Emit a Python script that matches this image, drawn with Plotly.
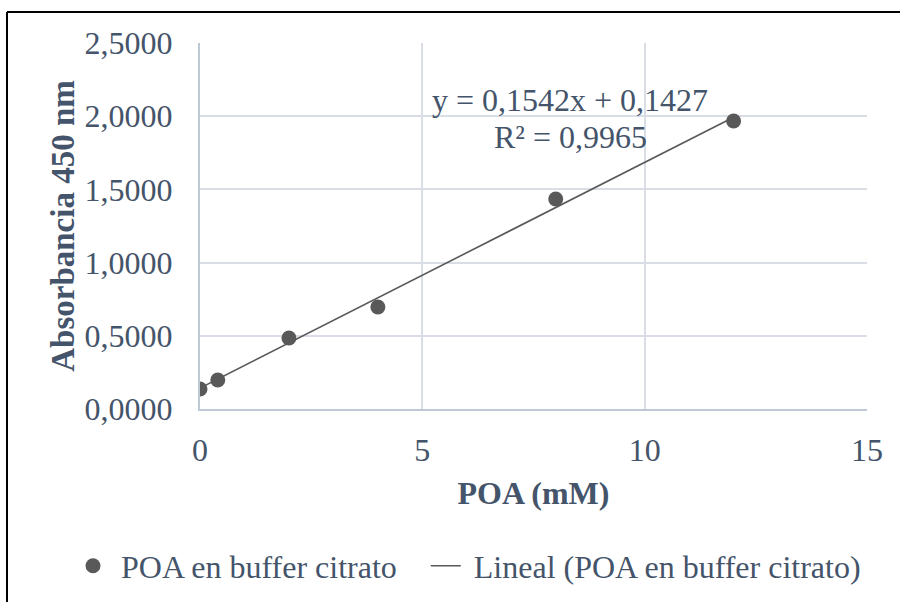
import plotly.graph_objects as go

# Data
poa_mM = [0, 0.4, 2, 4, 8, 12]
absorbance = [0.137, 0.198, 0.485, 0.697, 1.434, 1.967]
slope = 0.1542
intercept = 0.1427
r2 = 0.9965
x_ticks = [0, 5, 10, 15]
y_ticks = [0, 0.5, 1.0, 1.5, 2.0, 2.5]
series_name = "POA en buffer citrato"
trend_name = "Lineal (POA en buffer citrato)"

trend_x = [min(poa_mM), max(poa_mM)]
trend_y = [slope * v + intercept for v in trend_x]

FONT = "Liberation Serif, Times New Roman, serif"
TXT = "#44546A"
FS = 32
W, H = 900, 602
SL, SR, ST, SB = 200, 867, 43, 409
L, T, R, B = SL, ST, W - SR, H - SB
pw, ph = W - L - R, H - T - B
NB = "\u00a0"

def px2paper_x(px):
    return (px - L) / pw

def py2paper_y(py):
    return (H - B - py) / ph

fig = go.Figure()
fig.add_trace(go.Scatter(
    x=poa_mM, y=absorbance, mode="markers", name=NB + series_name + NB * 3,
    marker=dict(color="#595959", size=15),
))
fig.add_trace(go.Scatter(
    x=trend_x, y=trend_y, mode="lines", name=NB + trend_name,
    line=dict(color="#595959", width=1.6),
))

eq1 = f"y = {slope:.4f}x + {intercept:.4f}".replace(".", ",")
eq2 = f"R² = {r2:.4f}".replace(".", ",")
fig.add_annotation(x=8.32, y=2.111, xref="x", yref="y", text=eq1, showarrow=False,
                   font=dict(family=FONT, size=FS, color=TXT), yanchor="middle")
fig.add_annotation(x=8.34, y=1.858, xref="x", yref="y", text=eq2, showarrow=False,
                   font=dict(family=FONT, size=FS, color=TXT), yanchor="middle")

# Outer frame
fig.add_shape(type="line", xref="paper", yref="paper",
              x0=px2paper_x(7), x1=px2paper_x(7), y0=py2paper_y(12), y1=py2paper_y(620),
              line=dict(color="black", width=2))
fig.add_shape(type="line", xref="paper", yref="paper",
              x0=px2paper_x(7), x1=px2paper_x(920), y0=py2paper_y(12), y1=py2paper_y(12),
              line=dict(color="black", width=2))

fig.update_layout(
    width=W, height=H,
    margin=dict(l=L, r=R, t=T, b=B, autoexpand=False),
    paper_bgcolor="white", plot_bgcolor="white",
    separators=",.",
    font=dict(family=FONT, size=FS, color=TXT),
    showlegend=True,
    legend=dict(orientation="h", x=px2paper_x(73), xanchor="left",
                y=py2paper_y(566), yanchor="middle",
                font=dict(family=FONT, size=FS, color=TXT),
                bgcolor="rgba(0,0,0,0)"),
    xaxis=dict(
        range=[0, 15], tickvals=x_ticks, showgrid=True, gridcolor="#D9DEE6", gridwidth=1.5,
        showline=True, linecolor="#BFC9D6", linewidth=2, zeroline=False,
        ticks="outside", ticklen=12, tickcolor="rgba(0,0,0,0)",
        tickfont=dict(family=FONT, size=FS, color=TXT),
        title=dict(text="<b>POA (mM)</b>", font=dict(family=FONT, size=FS, color=TXT), standoff=14),
        fixedrange=True,
    ),
    yaxis=dict(
        range=[0, 2.5], tickvals=y_ticks, tickformat=".4f", showgrid=True,
        gridcolor="#D9DEE6", gridwidth=1.5,
        showline=True, linecolor="#BFC9D6", linewidth=2, zeroline=False,
        ticks="outside", ticklen=19, tickcolor="rgba(0,0,0,0)",
        tickfont=dict(family=FONT, size=FS, color=TXT),
        title=dict(text="<b>Absorbancia 450 nm</b>" + NB * 2, font=dict(family=FONT, size=33, color=TXT), standoff=0),
        fixedrange=True,
    ),
)

fig.write_html("out.html", config={"displayModeBar": False},
               post_script="document.body.style.margin='0';")
